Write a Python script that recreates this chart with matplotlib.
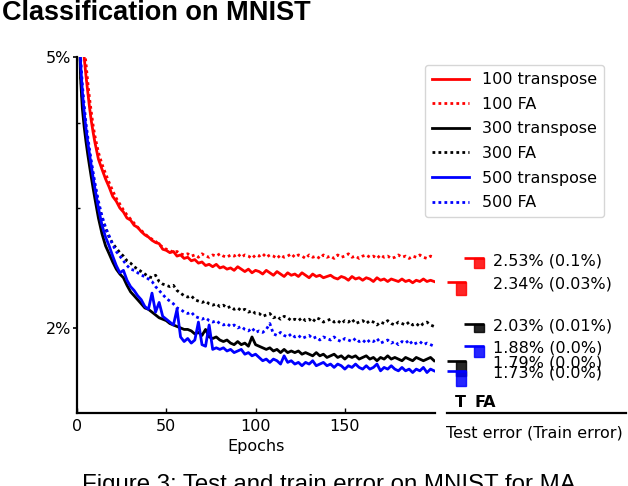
import matplotlib
matplotlib.use("Agg")
import matplotlib.pyplot as plt
import matplotlib.transforms as mtransforms
from matplotlib.patches import Rectangle
from matplotlib.ticker import FixedLocator, NullFormatter, FixedFormatter

# ---------------- data ----------------
epochs = list(range(1, 11)) + list(range(12, 201, 2))

err_100_transpose = [
    6.6, 5.8, 5.3, 5.0, 4.7, 4.45, 4.22, 4.03, 3.88, 3.75,
    3.54, 3.42, 3.31, 3.22, 3.12,
    3.07, 3.00, 2.96, 2.90, 2.88, 2.83, 2.81, 2.77, 2.74, 2.72,
    2.69, 2.67, 2.66, 2.61, 2.60, 2.58, 2.59, 2.55, 2.56, 2.53,
    2.54, 2.51, 2.52, 2.49, 2.50, 2.47, 2.48, 2.46, 2.48, 2.45,
    2.46, 2.44, 2.45, 2.43, 2.46, 2.44, 2.42, 2.44, 2.41, 2.43,
    2.42, 2.40, 2.43, 2.41, 2.39, 2.42, 2.40, 2.38, 2.41, 2.39,
    2.40, 2.38, 2.41, 2.39, 2.37, 2.40, 2.38, 2.39, 2.37, 2.38,
    2.39, 2.37, 2.36, 2.38, 2.37, 2.35, 2.38, 2.36, 2.37, 2.35,
    2.37, 2.36, 2.34, 2.37, 2.35, 2.36, 2.34, 2.36, 2.35, 2.34,
    2.36, 2.34, 2.35, 2.33, 2.35, 2.34, 2.36, 2.34, 2.35, 2.34,
]
err_100_fa = [
    6.9, 6.1, 5.55, 5.2, 4.9, 4.6, 4.35, 4.15, 3.97, 3.83,
    3.62, 3.48, 3.37, 3.27, 3.18,
    3.10, 3.04, 2.98, 2.93, 2.89, 2.85, 2.81, 2.78, 2.75, 2.72,
    2.70, 2.68, 2.65, 2.63, 2.61, 2.60, 2.58, 2.59, 2.57, 2.56,
    2.57, 2.55, 2.56, 2.54, 2.57, 2.55, 2.54, 2.56, 2.55, 2.57,
    2.55, 2.54, 2.56, 2.55, 2.57, 2.54, 2.56, 2.55, 2.53, 2.56,
    2.55, 2.57, 2.54, 2.56, 2.55, 2.53, 2.56, 2.54, 2.55, 2.57,
    2.54, 2.56, 2.55, 2.53, 2.56, 2.54, 2.55, 2.53, 2.56, 2.54,
    2.55, 2.53, 2.56, 2.54, 2.55, 2.57, 2.54, 2.55, 2.53, 2.55,
    2.56, 2.54, 2.55, 2.53, 2.56, 2.54, 2.55, 2.53, 2.54, 2.56,
    2.54, 2.55, 2.53, 2.55, 2.54, 2.56, 2.54, 2.53, 2.55, 2.54,
]
err_300_transpose = [
    6.0, 4.65, 4.2, 3.95, 3.76, 3.6, 3.46, 3.33, 3.21, 3.10,
    2.90, 2.75, 2.64, 2.57, 2.50,
    2.44, 2.40, 2.37, 2.31, 2.26, 2.23, 2.20, 2.17, 2.14, 2.13,
    2.11, 2.09, 2.07, 2.06, 2.05, 2.03, 2.02, 2.01, 2.00, 1.99,
    1.99, 1.98, 1.96, 1.97, 1.95, 1.99, 1.94, 1.93, 1.94, 1.92,
    1.91, 1.92, 1.90, 1.89, 1.91, 1.89, 1.90, 1.88, 1.94, 1.89,
    1.88, 1.87, 1.86, 1.87, 1.85, 1.86, 1.84, 1.86, 1.84, 1.85,
    1.84, 1.85, 1.83, 1.84, 1.83, 1.82, 1.84, 1.82, 1.83, 1.81,
    1.82, 1.83, 1.81, 1.82, 1.80, 1.82, 1.81, 1.82, 1.80, 1.81,
    1.82, 1.80, 1.81, 1.79, 1.81, 1.80, 1.82, 1.80, 1.81, 1.80,
    1.79, 1.81, 1.80, 1.79, 1.81, 1.80, 1.79, 1.80, 1.81, 1.79,
]
err_300_fa = [
    6.1, 4.75, 4.32, 4.07, 3.88, 3.72, 3.58, 3.45, 3.33, 3.22,
    3.03, 2.90, 2.80, 2.72, 2.66,
    2.62, 2.58, 2.55, 2.51, 2.49, 2.46, 2.44, 2.42, 2.40, 2.38,
    2.37, 2.39, 2.34, 2.32, 2.31, 2.30, 2.31, 2.27, 2.25, 2.23,
    2.22, 2.23, 2.20, 2.19, 2.18, 2.19, 2.17, 2.16, 2.17, 2.15,
    2.16, 2.14, 2.15, 2.13, 2.14, 2.12, 2.13, 2.11, 2.12, 2.10,
    2.10, 2.08, 2.09, 2.10, 2.07, 2.08, 2.06, 2.08, 2.07, 2.05,
    2.06, 2.05, 2.07, 2.05, 2.06, 2.04, 2.07, 2.06, 2.04, 2.05,
    2.06, 2.04, 2.05, 2.03, 2.05, 2.04, 2.06, 2.03, 2.04, 2.05,
    2.03, 2.05, 2.04, 2.02, 2.04, 2.03, 2.05, 2.03, 2.02, 2.04,
    2.03, 2.02, 2.04, 2.02, 2.03, 2.01, 2.03, 2.04, 2.02, 2.01,
]
err_500_transpose = [
    6.2, 4.9, 4.45, 4.15, 3.93, 3.75, 3.6, 3.46, 3.33, 3.21,
    3.00, 2.83, 2.72, 2.64, 2.55,
    2.47, 2.41, 2.43, 2.35, 2.30, 2.27, 2.23, 2.20, 2.15, 2.13,
    2.25, 2.11, 2.18, 2.08, 2.06, 2.04, 2.02, 2.13, 1.94, 1.91,
    1.93, 1.90, 1.92, 2.04, 1.89, 1.88, 2.02, 1.86, 1.87, 1.86,
    1.87, 1.85, 1.86, 1.84, 1.85, 1.86, 1.83, 1.84, 1.82, 1.83,
    1.81, 1.79, 1.80, 1.78, 1.80, 1.79, 1.77, 1.82, 1.78, 1.79,
    1.77, 1.78, 1.76, 1.78, 1.77, 1.79, 1.76, 1.77, 1.78, 1.76,
    1.77, 1.75, 1.77, 1.76, 1.74, 1.76, 1.75, 1.77, 1.75, 1.74,
    1.76, 1.74, 1.75, 1.77, 1.73, 1.75, 1.74, 1.76, 1.74, 1.73,
    1.75, 1.73, 1.74, 1.72, 1.74, 1.73, 1.75, 1.72, 1.74, 1.73,
]
err_500_fa = [
    6.3, 5.0, 4.55, 4.25, 4.0, 3.82, 3.66, 3.52, 3.39, 3.27,
    3.07, 2.92, 2.81, 2.73, 2.65,
    2.59, 2.55, 2.51, 2.47, 2.44, 2.43, 2.41, 2.39, 2.38, 2.36,
    2.34, 2.30, 2.27, 2.24, 2.21, 2.19, 2.17, 2.14, 2.13, 2.11,
    2.10, 2.11, 2.08, 2.07, 2.06, 2.07, 2.05, 2.04, 2.05, 2.03,
    2.02, 2.03, 2.01, 2.02, 2.00, 2.01, 1.99, 1.98, 2.00, 1.97,
    1.98, 1.97, 1.99, 2.03, 1.96, 1.95, 1.97, 1.95, 1.94, 1.96,
    1.94, 1.95, 1.93, 1.94, 1.95, 1.93, 1.94, 1.92, 1.94, 1.93,
    1.92, 1.94, 1.92, 1.91, 1.93, 1.92, 1.91, 1.93, 1.91, 1.92,
    1.90, 1.92, 1.91, 1.93, 1.90, 1.91, 1.92, 1.90, 1.91, 1.89,
    1.91, 1.90, 1.92, 1.89, 1.90, 1.91, 1.89, 1.90, 1.89, 1.88,
]

series_names = ["100 transpose", "100 FA", "300 transpose", "300 FA",
                "500 transpose", "500 FA"]
series_values = [err_100_transpose, err_100_fa, err_300_transpose,
                 err_300_fa, err_500_transpose, err_500_fa]
final_test = [2.34, 2.53, 1.79, 2.03, 1.73, 1.88]
final_train = ["0.03", "0.1", "0.0", "0.01", "0.0", "0.0"]

y_tick_values = [2, 5]
y_tick_labels = ["2%", "5%"]
y_minor_values = [3, 4]
x_tick_values = [0, 50, 100, 150]

# ---------------- style ----------------
series_colors = ["red", "red", "black", "black", "blue", "blue"]
series_is_fa = [False, True, False, True, False, True]
box_heights_px = [13, 10, 15, 8, 15, 11]
FS = 11.5
dot_style = (0, (1.0, 1.15))

W, H = 628, 486
fig = plt.figure(figsize=(W / 100, H / 100), dpi=100)

ax_left, ax_right, ax_top, ax_bot = 77, 435, 57, 413
ax = fig.add_axes([ax_left / W, 1 - ax_bot / H,
                   (ax_right - ax_left) / W, (ax_bot - ax_top) / H])

for name, vals, col, fa in zip(series_names, series_values,
                               series_colors, series_is_fa):
    ax.plot(epochs, vals, color=col, lw=2.0,
            linestyle=dot_style if fa else "-", label=name)

ax.set_yscale("log")
ax.set_ylim(1.5, 5.0)
ax.set_xlim(0, 200.5)
ax.yaxis.set_major_locator(FixedLocator(y_tick_values))
ax.yaxis.set_major_formatter(FixedFormatter(y_tick_labels))
ax.yaxis.set_minor_locator(FixedLocator(y_minor_values))
ax.yaxis.set_minor_formatter(NullFormatter())
ax.xaxis.set_major_locator(FixedLocator(x_tick_values))
ax.spines["top"].set_visible(False)
ax.spines["right"].set_visible(False)
for s in ("left", "bottom"):
    ax.spines[s].set_linewidth(1.6)
ax.tick_params(axis="y", which="major", direction="out", length=3.2,
               width=1.2, pad=1.2, labelsize=FS)
ax.tick_params(axis="y", which="minor", direction="in", length=2.5,
               width=1.0)
ax.tick_params(axis="x", which="major", direction="in", length=3.5,
               width=1.0, pad=4, labelsize=FS)
ax.set_xlabel("Epochs", fontsize=FS, labelpad=4)

leg = ax.legend(loc="upper right", bbox_to_anchor=(604 / W, 1 - 65 / H),
                bbox_transform=fig.transFigure, borderaxespad=0,
                fontsize=FS, handlelength=2.3, handletextpad=0.8,
                labelspacing=0.6, borderpad=0.45, frameon=True)

# ---------------- right summary panel ----------------
p_left, p_right = 447, 626
ax2 = fig.add_axes([p_left / W, 1 - ax_bot / H,
                    (p_right - p_left) / W, (ax_bot - ax_top) / H])
ax2.set_yscale("log")
ax2.set_ylim(1.5, 5.0)
ax2.set_xlim(0, 1)
for s in ("top", "right", "left"):
    ax2.spines[s].set_visible(False)
ax2.spines["bottom"].set_linewidth(1.6)
ax2.set_xticks([])
ax2.set_yticks([])
ax2.yaxis.set_minor_locator(FixedLocator([]))
ax2.patch.set_alpha(0)

trans = mtransforms.blended_transform_factory(ax2.transAxes, ax2.transData)
col_geom = {False: (0.0, 0.106, 0.052), True: (0.095, 0.207, 0.150)}

fig.canvas.draw()
for v, tr, col, fa, hpx in zip(final_test, final_train, series_colors,
                               series_is_fa, box_heights_px):
    x0, x1, bx = col_geom[fa]
    ax2.plot([x0, x1], [v, v], color=col, lw=1.9, transform=trans,
             clip_on=False, solid_capstyle="butt")
    ydisp = ax2.transData.transform((0, v))[1]
    ybot = ax2.transData.inverted().transform((0, ydisp - hpx))[1]
    ax2.add_patch(Rectangle((bx, ybot), x1 - bx, v - ybot, transform=trans,
                            facecolor=col, alpha=0.85, edgecolor=col,
                            lw=1.0, clip_on=False))
    ax2.annotate(f"{v:.2f}% ({tr}%)", xy=(0.255, v), xycoords=trans,
                 xytext=(0, -1.5), textcoords="offset points",
                 va="center", ha="left", fontsize=FS)

ax2.text(0.0765, 0.03, "T", transform=ax2.transAxes, ha="center",
         va="center", fontsize=FS, fontweight="bold")
ax2.text(0.212, 0.03, "FA", transform=ax2.transAxes, ha="center",
         va="center", fontsize=FS, fontweight="bold")
ax2.text(0.49, -0.055, "Test error (Train error)", transform=ax2.transAxes,
         ha="center", va="center", fontsize=FS)

# ---------------- title & caption ----------------
fig.text(2 / W, 1 - 20 / H, "Classification on MNIST", fontsize=19.5,
         fontweight="bold", family="Liberation Sans", ha="left",
         va="baseline")
fig.text(82 / W, 1 - 491 / H, "Figure 3: Test and train error on MNIST for MA",
         fontsize=17.3, family="Liberation Sans", ha="left", va="baseline")

fig.savefig("out.png", dpi=100)
